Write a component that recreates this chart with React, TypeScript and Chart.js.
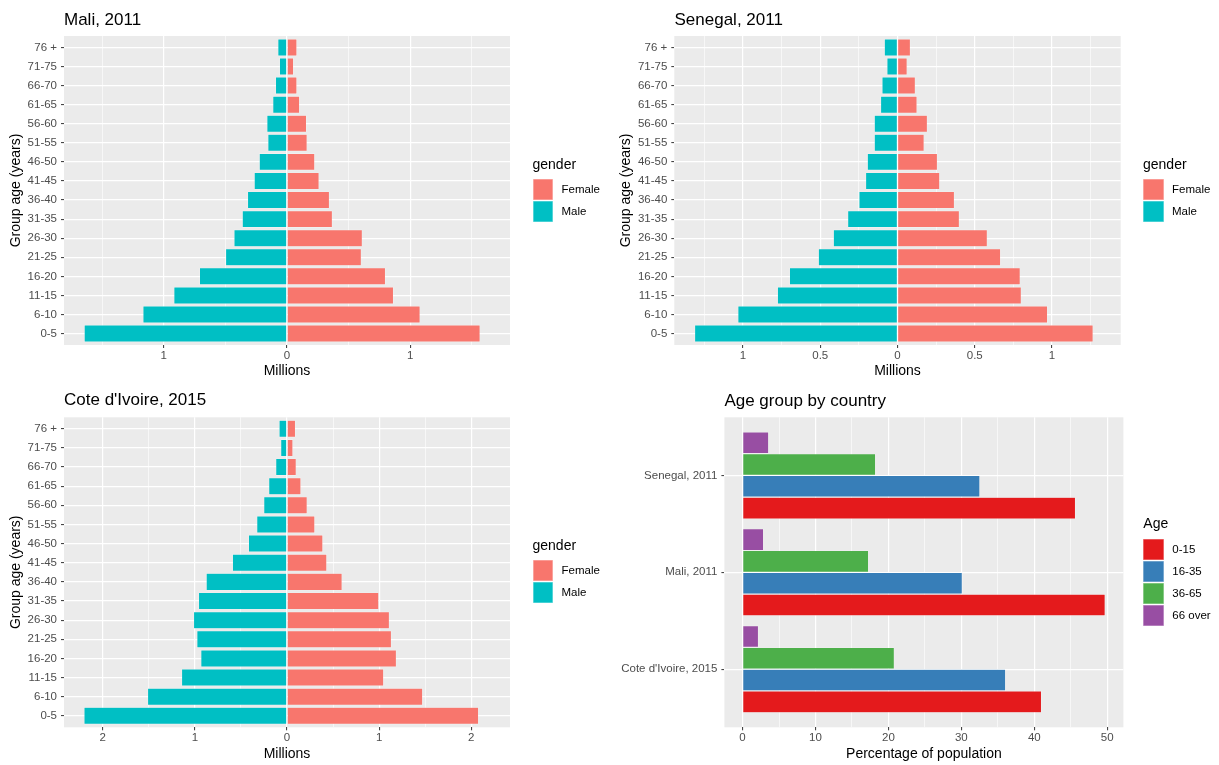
import React, { useEffect, useRef } from 'react';
import { Chart, registerables } from 'chart.js';

Chart.register(...registerables);

const FONT = "'Liberation Sans', Arial, Helvetica, sans-serif";
const TICK_COLOR = '#4D4D4D';
const PANEL_BG = '#EBEBEB';

// ---------- data ----------
const ageGroups = ['0-5', '6-10', '11-15', '16-20', '21-25', '26-30', '31-35', '36-40', '41-45', '46-50', '51-55', '56-60', '61-65', '66-70', '71-75', '76 +'];

// millions
const maliMale = [1.647, 1.17, 0.919, 0.711, 0.499, 0.431, 0.364, 0.321, 0.267, 0.226, 0.156, 0.164, 0.116, 0.094, 0.062, 0.075];
const maliFemale = [1.568, 1.081, 0.865, 0.8, 0.604, 0.612, 0.369, 0.345, 0.261, 0.226, 0.164, 0.159, 0.103, 0.081, 0.054, 0.081];

const senegalMale = [1.314, 1.034, 0.778, 0.7, 0.513, 0.416, 0.323, 0.25, 0.207, 0.196, 0.151, 0.151, 0.11, 0.101, 0.069, 0.086];
const senegalFemale = [1.267, 0.972, 0.802, 0.795, 0.668, 0.582, 0.401, 0.369, 0.274, 0.259, 0.173, 0.194, 0.127, 0.116, 0.063, 0.084];

const cdiMale = [2.204, 1.514, 1.145, 0.936, 0.979, 1.015, 0.961, 0.878, 0.593, 0.419, 0.329, 0.253, 0.199, 0.123, 0.069, 0.087];
const cdiFemale = [2.08, 1.473, 1.05, 1.188, 1.134, 1.112, 0.997, 0.599, 0.433, 0.39, 0.303, 0.22, 0.152, 0.101, 0.065, 0.093];

const maliMajorTicks = [-1, 0, 1];
const maliMinorTicks = [-1.5, -0.5, 0.5, 1.5];
const senegalMajorTicks = [-1, -0.5, 0, 0.5, 1];
const senegalMinorTicks = [-1.25, -0.75, -0.25, 0.25, 0.75, 1.25];
const cdiMajorTicks = [-2, -1, 0, 1, 2];
const cdiMinorTicks = [-1.5, -0.5, 0.5, 1.5];

const countries = ["Cote d'Ivoire, 2015", 'Mali, 2011', 'Senegal, 2011'];
const age0to15 = [41.0, 49.73, 45.66];
const age16to35 = [36.08, 30.14, 32.55];
const age36to65 = [20.82, 17.29, 18.25];
const age66over = [2.19, 2.89, 3.59];
const ageBandLabels = ['0-15', '16-35', '36-65', '66 over'];
const ageBandColors = ['#E41A1C', '#377EB8', '#4DAF4A', '#984EA3'];
const pctMajorTicks = [0, 10, 20, 30, 40, 50];
const pctMinorTicks = [5, 15, 25, 35, 45];

const genderLabels = ['Female', 'Male'];
const genderColors = ['#F8766D', '#00BFC4'];

// ---------- helpers ----------
const panelBg = {
  id: 'panelBg',
  beforeDraw(chart: any) {
    const { ctx, chartArea: a } = chart;
    ctx.save();
    ctx.fillStyle = PANEL_BG;
    ctx.fillRect(a.left, a.top, a.right - a.left, a.bottom - a.top);
    ctx.restore();
  },
};

type Box = { padLeft: number; padTop: number; padRight: number; padBottom: number; yWidth: number; xHeight: number };

function valueAxis(majors: number[], minors: number[], min: number, max: number, title: string, box: Box, stacked: boolean, absLabels: boolean) {
  const all = [...majors, ...minors].sort((a, b) => a - b);
  const isMajor = (v: number) => majors.some((m) => Math.abs(m - v) < 1e-9);
  return {
    type: 'linear',
    min,
    max,
    stacked,
    offset: false,
    afterBuildTicks: (s: any) => {
      s.ticks = all.map((v) => ({ value: v }));
    },
    afterFit: (s: any) => {
      s.height = box.xHeight;
    },
    border: { display: false },
    grid: {
      offset: false,
      color: '#FFFFFF',
      lineWidth: (c: any) => (c.tick && isMajor(c.tick.value) ? 1.2 : 0.6),
      tickColor: (c: any) => (c.tick && isMajor(c.tick.value) ? '#333333' : 'rgba(0,0,0,0)'),
      tickLength: 3,
      tickWidth: 1,
    },
    ticks: {
      autoSkip: false,
      maxRotation: 0,
      padding: 1,
      color: TICK_COLOR,
      font: { family: FONT, size: 11.5 },
      callback: (v: any) => (isMajor(v) ? String(absLabels ? Math.abs(v) : v) : ''),
    },
    title: {
      display: true,
      text: title,
      color: '#000000',
      padding: 0,
      font: { family: FONT, size: 14, lineHeight: 1.2 },
    },
  };
}

function categoryAxis(labels: string[], title: string | null, box: Box, stacked: boolean) {
  return {
    type: 'linear',
    min: -0.6,
    max: labels.length - 0.4,
    stacked,
    offset: false,
    bounds: 'data',
    afterBuildTicks: (s: any) => {
      s.ticks = labels.map((_, i) => ({ value: i }));
    },
    afterFit: (s: any) => {
      s.width = box.yWidth;
    },
    border: { display: false },
    grid: {
      offset: false,
      color: '#FFFFFF',
      lineWidth: 1.2,
      tickColor: '#333333',
      tickLength: 3,
      tickWidth: 1,
    },
    ticks: {
      autoSkip: false,
      padding: 4,
      color: TICK_COLOR,
      font: { family: FONT, size: 11.5 },
      callback: (v: any) => labels[Math.round(v)] ?? '',
    },
    title: title
      ? {
          display: true,
          text: title,
          color: '#000000',
          padding: 0,
          font: { family: FONT, size: 14, lineHeight: 1.2 },
        }
      : { display: false },
  };
}

function pyramidConfig(male: number[], female: number[], range: number, majors: number[], minors: number[], box: Box) {
  const maleData = male.map((v, i) => ({ x: -v, y: i }));
  const femaleData = female.map((v, i) => ({ x: v, y: i }));
  const common = {
    barPercentage: 0.9,
    categoryPercentage: 1,
    borderWidth: 0.6,
    borderColor: 'rgba(255,255,255,0.5)',
  };
  return {
    type: 'bar',
    data: {
      datasets: [
        { label: genderLabels[1], data: maleData, backgroundColor: genderColors[1], ...common },
        { label: genderLabels[0], data: femaleData, backgroundColor: genderColors[0], ...common },
      ],
    },
    options: {
      indexAxis: 'y',
      responsive: false,
      animation: false,
      events: [],
      layout: { padding: { left: box.padLeft, top: box.padTop, right: box.padRight, bottom: box.padBottom } },
      plugins: { legend: { display: false }, tooltip: { enabled: false }, title: { display: false } },
      scales: {
        x: valueAxis(majors, minors, -range, range, 'Millions', box, true, true),
        y: categoryAxis(ageGroups, 'Group age (years)', box, true),
      },
    },
    plugins: [panelBg],
  };
}

function ageBarConfig(box: Box) {
  const bands = [age0to15, age16to35, age36to65, age66over];
  const order = [3, 2, 1, 0]; // top-to-bottom within each group
  return {
    type: 'bar',
    data: {
      datasets: order.map((k) => ({
        label: ageBandLabels[k],
        data: bands[k].map((v, i) => ({ x: v, y: i })),
        backgroundColor: ageBandColors[k],
        barPercentage: 1,
        categoryPercentage: 0.9,
        borderWidth: 0.6,
        borderColor: 'rgba(255,255,255,0.5)',
      })),
    },
    options: {
      indexAxis: 'y',
      responsive: false,
      animation: false,
      events: [],
      layout: { padding: { left: box.padLeft, top: box.padTop, right: box.padRight, bottom: box.padBottom } },
      plugins: { legend: { display: false }, tooltip: { enabled: false }, title: { display: false } },
      scales: {
        x: valueAxis(pctMajorTicks, pctMinorTicks, -2.49, 52.22, 'Percentage of population', box, false, false),
        y: categoryAxis(countries, null, box, false),
      },
    },
    plugins: [panelBg],
  };
}

function ChartCanvas({ left, top, width, height, make }: { left: number; top: number; width: number; height: number; make: () => any }) {
  const ref = useRef<HTMLCanvasElement | null>(null);
  useEffect(() => {
    const chart = new Chart(ref.current as HTMLCanvasElement, make());
    return () => chart.destroy();
  }, []);
  return <canvas ref={ref} width={width} height={height} style={{ position: 'absolute', left, top, width, height }} />;
}

function PanelTitle({ text, left, top }: { text: string; left: number; top: number }) {
  return (
    <div style={{ position: 'absolute', left, top, fontFamily: FONT, fontSize: 17, lineHeight: '17px', color: '#000', whiteSpace: 'nowrap' }}>
      {text}
    </div>
  );
}

function Legend({ left, titleCenter, keysTop, title, labels, colors }: { left: number; titleCenter: number; keysTop: number; title: string; labels: string[]; colors: string[] }) {
  return (
    <>
      <div style={{ position: 'absolute', left, top: titleCenter - 8.3, fontFamily: FONT, fontSize: 14, lineHeight: '14px', color: '#000', whiteSpace: 'nowrap' }}>{title}</div>
      {labels.map((lab, i) => (
        <React.Fragment key={lab}>
          <div
            style={{
              position: 'absolute',
              left,
              top: keysTop + i * 22,
              width: 20.7,
              height: 20.7,
              background: colors[i],
              boxShadow: 'inset 0 0 0 0.6px rgba(255,255,255,0.55)',
            }}
          />
          <div
            style={{
              position: 'absolute',
              left: left + 29,
              top: keysTop + i * 22,
              height: 20.7,
              lineHeight: '20.7px',
              fontFamily: FONT,
              fontSize: 11.5,
              color: '#000',
              whiteSpace: 'nowrap',
            }}
          >
            {lab}
          </div>
        </React.Fragment>
      ))}
    </>
  );
}

const maliBox: Box = { padLeft: 8, padTop: 36, padRight: 100, padBottom: 5, yWidth: 56, xHeight: 35 };
const senegalBox: Box = { padLeft: 8, padTop: 36, padRight: 98.3, padBottom: 5, yWidth: 56.3, xHeight: 35 };
const cdiBox: Box = { padLeft: 8, padTop: 32.3, padRight: 100, padBottom: 2.6, yWidth: 56, xHeight: 35.1 };
const barBox: Box = { padLeft: 0, padTop: 32.3, padRight: 95.6, padBottom: 2.6, yWidth: 114.4, xHeight: 35.1 };

export default function App() {
  return (
    <div style={{ position: 'absolute', left: 0, top: 0, width: 1219, height: 765, background: '#FFFFFF', overflow: 'hidden' }}>
      <ChartCanvas left={0} top={0} width={610} height={385} make={() => pyramidConfig(maliMale, maliFemale, 1.81, maliMajorTicks, maliMinorTicks, maliBox)} />
      <ChartCanvas left={610} top={0} width={609} height={385} make={() => pyramidConfig(senegalMale, senegalFemale, 1.445, senegalMajorTicks, senegalMinorTicks, senegalBox)} />
      <ChartCanvas left={0} top={385} width={610} height={380} make={() => pyramidConfig(cdiMale, cdiFemale, 2.42, cdiMajorTicks, cdiMinorTicks, cdiBox)} />
      <ChartCanvas left={610} top={385} width={609} height={380} make={() => ageBarConfig(barBox)} />

      <PanelTitle text="Mali, 2011" left={64} top={10.6} />
      <PanelTitle text="Senegal, 2011" left={674.5} top={10.6} />
      <PanelTitle text="Cote d'Ivoire, 2015" left={64} top={391.3} />
      <PanelTitle text="Age group by country" left={724.4} top={391.6} />

      <Legend left={532.5} titleCenter={165} keysTop={179} title="gender" labels={genderLabels} colors={genderColors} />
      <Legend left={1143} titleCenter={165} keysTop={179} title="gender" labels={genderLabels} colors={genderColors} />
      <Legend left={532.5} titleCenter={546} keysTop={560} title="gender" labels={genderLabels} colors={genderColors} />
      <Legend left={1143.3} titleCenter={524.3} keysTop={539} title="Age" labels={ageBandLabels} colors={ageBandColors} />
    </div>
  );
}
